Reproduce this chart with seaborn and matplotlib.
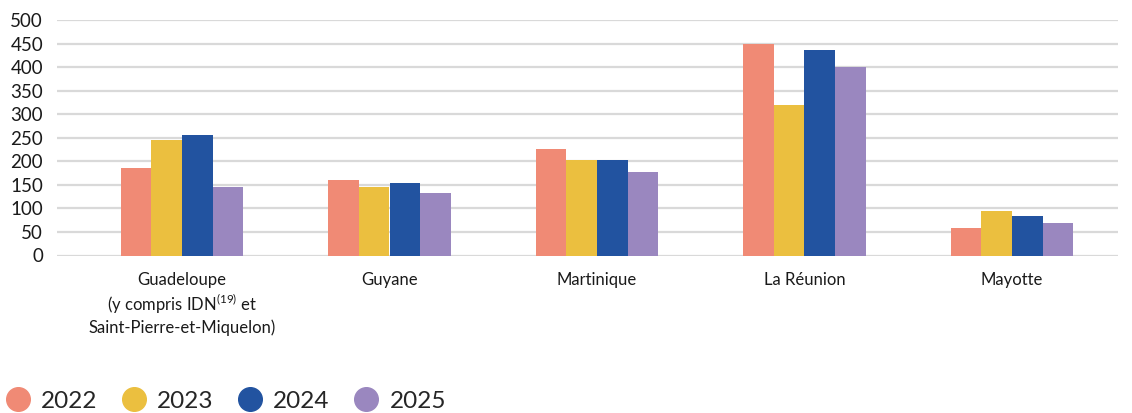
import matplotlib
matplotlib.use("Agg")
import matplotlib.pyplot as plt
from matplotlib.lines import Line2D
import seaborn as sns
import pandas as pd

territoires = [
    "Guadeloupe\n(y compris IDN$^{\\mathregular{(19)}}$ et\nSaint-Pierre-et-Miquelon)",
    "Guyane",
    "Martinique",
    "La Réunion",
    "Mayotte",
]
annees = ["2022", "2023", "2024", "2025"]
v2022 = [186, 160, 226, 449, 58]
v2023 = [245, 145, 203, 320, 94]
v2024 = [256, 154, 203, 436, 84]
v2025 = [145, 133, 177, 400, 69]
couleurs = ["#F08A75", "#EBBF3F", "#2253A0", "#9A87BF"]

rows = []
for annee, vals in zip(annees, [v2022, v2023, v2024, v2025]):
    for t, v in zip(territoires, vals):
        rows.append({"territoire": t, "annee": annee, "valeur": v})
df = pd.DataFrame(rows)

sns.set_theme(style="white")
plt.rcParams["font.family"] = ["Lato", "DejaVu Sans"]
plt.rcParams["mathtext.default"] = "regular"

W, H = 1132, 413
x0, x1, y0, y1 = 57, 1118, 255.5, 20
fig = plt.figure(figsize=(W / 100, H / 100), dpi=100)
ax = fig.add_axes([x0 / W, 1 - y0 / H, (x1 - x0) / W, (y0 - y1) / H])

sns.barplot(data=df, x="territoire", y="valeur", hue="annee",
            palette=couleurs, order=territoires, hue_order=annees,
            width=0.588, saturation=1, ax=ax, legend=False, linewidth=0)

ax.set_ylim(0, 500)
ax.set_yticks(range(0, 501, 50))
# first group centred at 182 px, 207.5 px between groups
step, c0 = 207.5, 182
ax.set_xlim((x0 - c0) / step, (x1 - c0) / step)
ax.yaxis.grid(True, color="#d9d9d9", linewidth=1.6)
ax.set_axisbelow(True)
for s in ax.spines.values():
    s.set_visible(False)
ax.set_xlabel("")
ax.set_ylabel("")
ax.tick_params(axis="y", labelsize=13.5, length=0, pad=10, labelcolor="#1a1a1a")
ax.tick_params(axis="x", labelsize=12, length=0, pad=12, labelcolor="#1a1a1a")
for lbl in ax.get_xticklabels():
    lbl.set_linespacing(1.25)

handles = [Line2D([0], [0], marker="o", linestyle="", markersize=17,
                  markerfacecolor=c, markeredgecolor=c) for c in couleurs]
fig.legend(handles, annees, loc="lower left", bbox_to_anchor=(-0.014, -0.05),
           ncol=4, frameon=False, fontsize=17.5, handletextpad=0.45,
           columnspacing=1.0, handlelength=1.0)

fig.savefig("out.png", dpi=100)
